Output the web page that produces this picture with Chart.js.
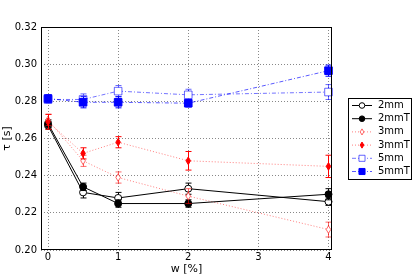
<!DOCTYPE html>
<html><head><meta charset="utf-8">
<script src="https://cdn.jsdelivr.net/npm/chart.js@4/dist/chart.umd.min.js"></script>
<style>html,body{margin:0;padding:0;background:#fff}#wrap{width:415px;height:277px}</style>
</head><body><div id="wrap"><canvas id="c" width="415" height="277"></canvas></div>
<script>
const wValues = [0, 0.5, 1, 2, 4];
const labels = ['2mm', '2mmT', '3mm', '3mmT', '5mm', '5mmT'];
const tau2mm  = [0.267, 0.231, 0.228, 0.233, 0.226];
const err2mm  = [0.002, 0.003, 0.003, 0.003, 0.002];
const tau2mmT = [0.268, 0.234, 0.225, 0.225, 0.230];
const err2mmT = [0.002, 0.002, 0.002, 0.002, 0.003];
const tau3mm  = [0.270, 0.248, 0.239, 0.229, 0.211];
const err3mm  = [0.003, 0.003, 0.003, 0.004, 0.004];
const tau3mmT = [0.269, 0.252, 0.258, 0.248, 0.245];
const err3mmT = [0.004, 0.003, 0.003, 0.005, 0.006];
const tau5mm  = [0.281, 0.281, 0.2855, 0.2835, 0.285];
const err5mm  = [0.002, 0.003, 0.003, 0.003, 0.004];
const tau5mmT = [0.2815, 0.2795, 0.2795, 0.279, 0.2965];
const err5mmT = [0.002, 0.003, 0.003, 0.002, 0.003];
const yTicks = [0.20, 0.22, 0.24, 0.26, 0.28, 0.30, 0.32];
const xTicks = [0, 1, 2, 3, 4];

const FONT = 'DejaVu Sans';
function pts(vals){ return wValues.map((x,i)=>({x:x, y:vals[i]})); }

const styles = [
  {line:'#000', dash:[], marker:'circle', fill:'#fff', edge:'#000', r:3.5, err:'#000'},
  {line:'#000', dash:[], marker:'circle', fill:'#000', edge:'#000', r:3.5, err:'#000'},
  {line:'rgba(255,0,0,0.5)', dash:[1,2], marker:'diamond', fill:'#fff', edge:'rgba(255,0,0,0.6)', r:3.8, err:'rgba(255,0,0,0.6)'},
  {line:'rgba(255,0,0,0.5)', dash:[1,2], marker:'diamond', fill:'#f00', edge:'#f00', r:3.8, err:'#f00'},
  {line:'rgba(0,0,255,0.55)', dash:[4,2,1,2], marker:'rect', fill:'#fff', edge:'rgba(0,0,255,0.6)', r:3.8, err:'rgba(0,0,255,0.6)'},
  {line:'rgba(0,0,255,0.65)', dash:[4,2,1,2], marker:'rect', fill:'#00f', edge:'#00f', r:3.8, err:'#00f'}
];
const series = [tau2mm, tau2mmT, tau3mm, tau3mmT, tau5mm, tau5mmT];
const errs = [err2mm, err2mmT, err3mm, err3mmT, err5mm, err5mmT];

function drawMarker(ctx, st, x, y, scale){
  const r = st.r * (scale || 1);
  ctx.save();
  ctx.setLineDash([]); ctx.lineWidth = 1;
  ctx.fillStyle = st.fill; ctx.strokeStyle = st.edge;
  ctx.beginPath();
  if (st.marker === 'circle') { ctx.arc(x, y, r, 0, Math.PI*2); }
  else if (st.marker === 'rect') { ctx.rect(x-r, y-r, r*2, r*2); }
  else { ctx.moveTo(x, y-r); ctx.lineTo(x+r*0.6, y); ctx.lineTo(x, y+r); ctx.lineTo(x-r*0.6, y); ctx.closePath(); }
  ctx.fill(); ctx.stroke();
  ctx.restore();
}

const datasets = series.map((s,i)=>({
  label: labels[i], data: pts(s), errors: errs[i],
  borderColor: styles[i].line, borderWidth: 1, borderDash: styles[i].dash,
  pointRadius: 0, showLine: true, tension: 0, fill: false
}));

const errPlugin = {
  id: 'errbars',
  afterDatasetsDraw(chart){
    const ctx = chart.ctx, xs = chart.scales.x, ys = chart.scales.y;
    ctx.save();
    chart.data.datasets.forEach((ds,i)=>{
      ctx.strokeStyle = styles[i].err; ctx.lineWidth = 1; ctx.setLineDash([]);
      ds.data.forEach((p,j)=>{
        const e = ds.errors[j];
        const px = Math.round(xs.getPixelForValue(p.x)) + 0.5;
        const y1 = ys.getPixelForValue(p.y - e), y2 = ys.getPixelForValue(p.y + e);
        ctx.beginPath();
        ctx.moveTo(px, y1); ctx.lineTo(px, y2);
        ctx.moveTo(px-3, y1); ctx.lineTo(px+3, y1);
        ctx.moveTo(px-3, y2); ctx.lineTo(px+3, y2);
        ctx.stroke();
      });
      ds.data.forEach((p)=>{
        drawMarker(ctx, styles[i], xs.getPixelForValue(p.x), ys.getPixelForValue(p.y));
      });
    });
    ctx.restore();
  },
  afterDraw(chart){
    const ctx = chart.ctx, a = chart.chartArea;
    ctx.save();
    ctx.strokeStyle = '#000'; ctx.lineWidth = 1; ctx.setLineDash([]);
    ctx.strokeRect(a.left+0.5, a.top+0.5, a.right-a.left-1, a.bottom-a.top-1);
    // legend
    const bx = 348.5, by = 98.5, bw = 63, bh = 81;
    ctx.fillStyle = '#fff'; ctx.fillRect(bx, by, bw, bh);
    ctx.strokeStyle = '#000'; ctx.strokeRect(bx, by, bw, bh);
    ctx.font = '10px "' + FONT + '"'; ctx.textBaseline = 'middle'; ctx.textAlign = 'left';
    chart.data.datasets.forEach((ds,i)=>{
      const y = 105.5 + i*13.2;
      const st = styles[i];
      ctx.strokeStyle = st.line; ctx.setLineDash(st.dash); ctx.lineWidth = 1;
      ctx.beginPath(); ctx.moveTo(352, y); ctx.lineTo(372, y); ctx.stroke();
      drawMarker(ctx, st, 362, y, 0.8);
      ctx.fillStyle = '#000';
      ctx.fillText(ds.label, 378, y);
    });
    ctx.restore();
  }
};

new Chart(document.getElementById('c'), {
  type: 'scatter',
  data: { datasets },
  options: {
    responsive: false, animation: false,
    layout: { padding: { left: 0, right: 83, top: 27, bottom: 0 } },
    plugins: { legend: { display: false }, tooltip: { enabled: false } },
    scales: {
      x: {
        type: 'linear', min: -0.1, max: 4.05,
        afterBuildTicks(s){ s.ticks = xTicks.map(v=>({value:v})); },
        afterFit(s){ s.height = 27; },
        ticks: { color: '#000', font: { family: FONT, size: 10 }, padding: 1, maxRotation: 0 },
        grid: { color: '#888', drawTicks: false },
        border: { display: false, dash: [1,2] },
        title: { display: true, text: 'w [%]', color: '#000', font: { family: FONT, size: 11 }, padding: { top: 0, bottom: 1 } }
      },
      y: {
        type: 'linear', min: 0.20, max: 0.32,
        afterBuildTicks(s){ s.ticks = yTicks.map(v=>({value:v})); },
        afterFit(s){ s.width = 41; },
        ticks: { color: '#000', font: { family: FONT, size: 10 }, padding: 4, callback: v=>v.toFixed(2) },
        grid: { color: '#888', drawTicks: false },
        border: { display: false, dash: [1,2] },
        title: { display: true, text: 'τ [s]', color: '#000', font: { family: FONT, size: 11 }, padding: { top: 1, bottom: 0 } }
      }
    }
  },
  plugins: [errPlugin]
});
</script></body></html>
